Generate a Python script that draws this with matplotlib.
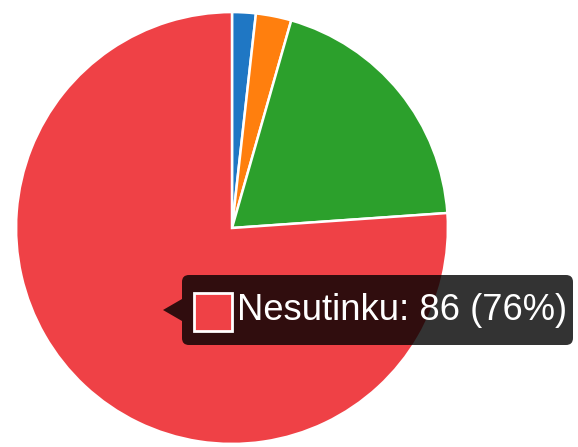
import matplotlib
matplotlib.use("Agg")
import matplotlib.pyplot as plt
from matplotlib.patches import FancyBboxPatch, Polygon, Rectangle

# Vote counts per answer, in drawing order (clockwise from 12 o'clock)
labels = ["Taip", "Nežinau", "Iš dalies", "Nesutinku"]
values = [2, 3, 22, 86]
colors = ["#1f77c4", "#ff7f0e", "#2ca02c", "#ef4146"]

W, H = 578, 447
fig = plt.figure(figsize=(W / 100, H / 100), dpi=100)
fig.patch.set_facecolor("white")

# Pie area: centre (232, 228) px, radius 217 px
cx, cy, r = 232, 228, 217
ax = fig.add_axes([(cx - r) / W, (H - cy - r) / H, 2 * r / W, 2 * r / H])
wedges, _ = ax.pie(values, colors=colors, startangle=90, counterclock=False,
                   radius=1.0,
                   wedgeprops=dict(edgecolor="white", linewidth=1.8))
ax.set_xlim(-1.005, 1.005)
ax.set_ylim(-1.005, 1.005)
ax.set_aspect("equal")
ax.axis("off")

# Tooltip for the hovered slice
hover = labels.index("Nesutinku")
total = sum(values)
pct = round(100 * values[hover] / total)
tip_text = f"{labels[hover]}: {values[hover]} ({pct}%)"

def px(x, y):
    return (x / W, 1 - y / H)

x0, y0, x1, y1 = 182, 275, 573, 345
box = FancyBboxPatch(px(x0, y1), (x1 - x0) / W, (y1 - y0) / H,
                     boxstyle="round,pad=0,rounding_size=0.012",
                     transform=fig.transFigure, facecolor=(0, 0, 0, 0.8),
                     edgecolor="none", mutation_aspect=W / H)
fig.patches.append(box)
arrow = Polygon([px(x0, 299), px(163, 310), px(x0, 321)], closed=True,
                transform=fig.transFigure, facecolor=(0, 0, 0, 0.8),
                edgecolor="none")
fig.patches.append(arrow)

# Colour swatch
sq = Rectangle(px(194, 331), 38 / W, 38 / H, transform=fig.transFigure,
               facecolor=colors[hover], edgecolor="white", linewidth=2)
fig.patches.append(sq)

fig.text(237 / W, 1 - 311 / H, tip_text, color="white", fontsize=26.2,
         family="Liberation Sans", va="center", ha="left")

fig.savefig("out.png", dpi=100)
